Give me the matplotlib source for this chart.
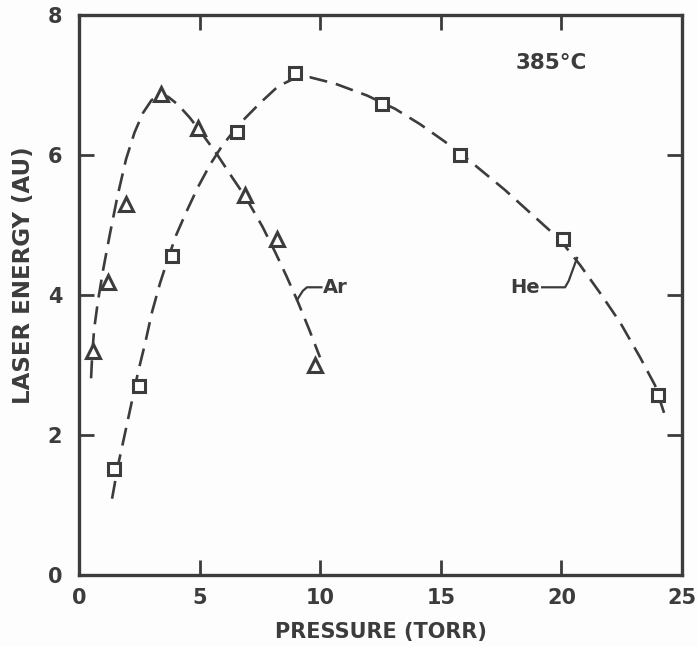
"""
Laser energy vs. buffer-gas pressure (Ar and He) at 385 C.
Re-drawn from a scanned figure: markers are measured points, dashed
lines are the hand-drawn trend curves traced off the scan.
"""

import matplotlib
matplotlib.use("Agg")
import matplotlib.pyplot as plt

# --- measured points ---
ar_p = [0.60, 1.20, 1.95, 3.40, 4.95, 6.90, 8.20, 9.80]
ar_e = [3.20, 4.18, 5.30, 6.87, 6.38, 5.43, 4.80, 3.00]

he_p = [1.45, 2.50, 3.85, 6.55, 8.95, 12.55, 15.80, 20.05, 24.00]
he_e = [1.52, 2.70, 4.56, 6.33, 7.17, 6.73, 6.00, 4.80, 2.57]

# --- trend curves ---
ar_curve_p = [0.50, 0.55, 0.63, 0.78, 1.00, 1.28, 1.60, 1.95, 2.30, 2.65,
              3.00, 3.35, 3.70, 4.10, 4.60, 5.15, 5.72, 6.35, 6.90, 7.60,
              8.15, 8.60, 9.04, 9.55, 9.99]
ar_curve_e = [2.81, 3.17, 3.52, 3.90, 4.36, 4.87, 5.42, 5.94, 6.32, 6.60,
              6.78, 6.87, 6.83, 6.72, 6.53, 6.28, 6.01, 5.68, 5.40, 4.98,
              4.60, 4.27, 3.93, 3.50, 3.11]

he_curve_p = [1.37, 1.62, 1.91, 2.16, 2.45, 2.74, 3.03, 3.36, 3.69, 4.02,
              4.44, 4.93, 5.43, 5.93, 6.67, 7.50, 8.25, 8.96, 9.58, 10.61,
              11.94, 13.10, 14.14, 15.17, 16.29, 17.66, 18.91, 19.94, 20.77,
              21.60, 22.43, 23.26, 23.88, 24.30]
he_curve_e = [1.09, 1.57, 2.03, 2.43, 2.90, 3.31, 3.76, 4.17, 4.52, 4.85,
              5.18, 5.54, 5.86, 6.13, 6.45, 6.74, 6.98, 7.10, 7.11, 7.02,
              6.85, 6.66, 6.44, 6.19, 5.89, 5.50, 5.11, 4.79, 4.43,
              4.03, 3.61, 3.11, 2.71, 2.27]

# --- curve labels with leader lines ---
ar_leader_p = [9.04, 9.28, 9.45, 10.05]
ar_leader_e = [3.93, 4.06, 4.11, 4.11]
he_leader_p = [20.65, 20.30, 20.15, 19.20]
he_leader_e = [4.53, 4.20, 4.11, 4.11]

x_ticks = [0, 5, 10, 15, 20, 25]
y_ticks = [0, 2, 4, 6, 8]

INK = "#3c3c3c"
BG = "#fdfdfd"
plt.rcParams["font.family"] = "DejaVu Sans"
plt.rcParams["font.weight"] = "bold"
plt.rcParams["axes.labelweight"] = "bold"
plt.rcParams["lines.scale_dashes"] = False

fig = plt.figure(figsize=(6.98, 6.46), dpi=100, facecolor=BG)
ax = fig.add_axes([0.1132, 0.1099, 0.8639, 0.8669])
ax.set_facecolor(BG)

# dashed trend curves
for cx, cy in [(ar_curve_p, ar_curve_e), (he_curve_p, he_curve_e)]:
    ax.plot(cx, cy, color=INK, lw=1.9, dashes=(13, 6.5),
            dash_capstyle="butt", zorder=2)

# measured points
ax.plot(ar_p, ar_e, ls="none", marker="^", ms=10, mew=2.2,
        mfc=BG, mec=INK, zorder=3)
ax.plot(he_p, he_e, ls="none", marker="s", ms=8.5, mew=2.2,
        mfc=BG, mec=INK, zorder=3)

# labels
ax.plot(ar_leader_p, ar_leader_e, color=INK, lw=1.6, zorder=2)
ax.plot(he_leader_p, he_leader_e, color=INK, lw=1.6, zorder=2)
ax.text(10.1, 4.11, "Ar", fontsize=14, color=INK, ha="left", va="center")
ax.text(19.1, 4.11, "He", fontsize=14, color=INK, ha="right", va="center")
ax.text(19.6, 7.32, "385°C", fontsize=15.5, color=INK, ha="center", va="center")

ax.set_xlim(0, 25)
ax.set_ylim(0, 8)
ax.set_xticks(x_ticks)
ax.set_yticks(y_ticks)
ax.set_xticklabels([str(v) for v in x_ticks])
ax.set_yticklabels([str(v) for v in y_ticks])

ax.tick_params(axis="both", which="major", direction="in", length=11,
               width=2, color=INK, labelcolor=INK, labelsize=15,
               top=True, right=True)
ax.tick_params(axis="x", pad=9)
ax.tick_params(axis="y", pad=12)

for sp in ax.spines.values():
    sp.set_linewidth(2.4)
    sp.set_color(INK)

ax.set_xlabel("PRESSURE (TORR)", fontsize=15, color=INK)
ax.set_ylabel("LASER ENERGY (AU)", fontsize=16.5, color=INK)
ax.xaxis.set_label_coords(0.50, -0.102)
ax.yaxis.set_label_coords(-0.092, 0.536)
ax.xaxis.label.set_va("center")
ax.yaxis.label.set_va("center")

fig.savefig("out.png", dpi=100, facecolor=fig.get_facecolor())
plt.close(fig)
